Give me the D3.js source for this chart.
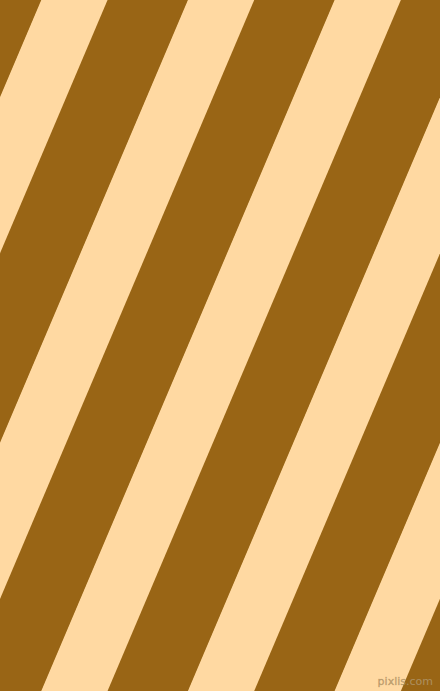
<!DOCTYPE html>
<html>
<head>
<meta charset="utf-8">
<script src="https://cdn.jsdelivr.net/npm/d3@7"></script>
<style>
  html, body { margin: 0; padding: 0; background: #fed9a2; }
  svg { display: block; }
</style>
</head>
<body>
<div id="graph-container"></div>
<script>
// Stripe data: colour keys and widths (measured across the stripes)
var stripeKinds = ["brown", "peach", "brown", "peach", "brown", "peach", "brown", "peach", "brown", "peach", "brown"];
var stripeWidths = [74, 61, 74, 61, 74, 61, 74, 61, 74, 61, 74];
var palette = { brown: "#996515", peach: "#ffd9a2" };
var watermark = "pixlis.com";

var svgWidth = 440;
var svgHeight = 691;
var angle = 23;     // stripe tilt from vertical
var offset = -36;   // where the first stripe begins

var svg = d3.select("#graph-container")
  .append("svg")
  .attr("width", svgWidth)
  .attr("height", svgHeight);

// Cumulative positions of stripe edges
var edges = [0].concat(Array.from(d3.cumsum(stripeWidths)));
var total = d3.sum(stripeWidths);

var uScale = d3.scaleLinear()
  .domain([0, total])
  .range([offset, offset + total]);

var stripes = stripeKinds.map(function (k, i) {
  return { kind: k, start: edges[i], end: edges[i + 1] };
});

var g = svg.append("g")
  .attr("transform", "rotate(" + angle + ")");

g.selectAll("rect")
  .data(stripes)
  .enter()
  .append("rect")
  .attr("x", function (d) { return uScale(d.start); })
  .attr("y", -300)
  .attr("width", function (d) { return uScale(d.end) - uScale(d.start) + 0.5; })
  .attr("height", 1100)
  .attr("fill", function (d) { return palette[d.kind]; });

// Watermark
svg.append("text")
  .attr("x", 433)
  .attr("y", 685)
  .attr("text-anchor", "end")
  .attr("font-family", "DejaVu Sans")
  .attr("font-size", 11)
  .attr("fill", "#c2a676")
  .attr("fill-opacity", 0.85)
  .attr("stroke", "#8a6a3a")
  .attr("stroke-opacity", 0.35)
  .attr("stroke-width", 0.6)
  .text(watermark);
</script>
</body>
</html>
